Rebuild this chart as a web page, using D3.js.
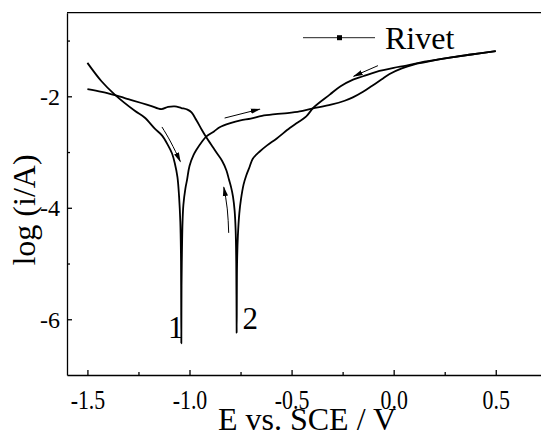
<!DOCTYPE html>
<html>
<head>
<meta charset="utf-8">
<script src="https://cdn.jsdelivr.net/npm/d3@7"></script>
<style>
body { margin: 0; background: #fff; }
svg { display: block; }
text { font-family: "Liberation Serif", "Times New Roman", serif; fill: #000; }
</style>
</head>
<body>
<div id="container"></div>
<script>
// curve 1: forward scan, -1.5 V -> 0.5 V
const forwardE = [-1.500, -1.431, -1.366, -1.268, -1.220, -1.170, -1.135, -1.105, -1.085, -1.072, -1.059, -1.051, -1.045, -1.042, -1.041, -1.040,
    -1.039, -1.037, -1.034, -1.030, -1.020, -1.012, -1.000, -0.980, -0.966, -0.940, -0.917, -0.880, -0.850, -0.800, -0.750, -0.700, -0.645,
    -0.580, -0.520, -0.460, -0.400, -0.307, -0.240, -0.200, -0.150, -0.105, -0.060, -0.020, 0.040, 0.098, 0.150, 0.267, 0.380, 0.500]
const forwardLog = [-1.40, -1.73, -1.97, -2.26, -2.38, -2.58, -2.70, -2.88, -3.03, -3.20, -3.45, -3.80, -4.25, -4.80, -5.40, -6.43,
    -5.40, -4.80, -4.25, -3.95, -3.65, -3.50, -3.25, -3.05, -2.96, -2.82, -2.72, -2.63, -2.55, -2.48, -2.43, -2.40, -2.35,
    -2.32, -2.30, -2.27, -2.22, -2.15, -2.08, -2.02, -1.92, -1.81, -1.70, -1.60, -1.50, -1.43, -1.39, -1.31, -1.25, -1.19]

// curve 2: backward scan, 0.5 V -> -1.5 V
const backwardE = [0.500, 0.380, 0.267, 0.150, 0.062, 0.000, -0.085, -0.150, -0.199, -0.260, -0.313, -0.392, -0.428, -0.470, -0.509, -0.574,
    -0.620, -0.656, -0.690, -0.705, -0.722, -0.735, -0.748, -0.756, -0.763, -0.767, -0.769, -0.771, -0.774, -0.779, -0.787, -0.797,
    -0.807, -0.819, -0.840, -0.868, -0.895, -0.917, -0.940, -0.966, -0.990, -1.010, -1.040, -1.072, -1.105, -1.138, -1.190, -1.236,
    -1.300, -1.366, -1.430, -1.500]
const backwardLog = [-1.19, -1.25, -1.31, -1.38, -1.45, -1.49, -1.56, -1.64, -1.70, -1.82, -1.97, -2.20, -2.36, -2.47, -2.57, -2.76,
    -2.88, -2.99, -3.12, -3.26, -3.42, -3.58, -3.85, -4.10, -4.50, -5.00, -6.24, -5.00, -4.40, -4.05, -3.80, -3.62,
    -3.49, -3.33, -3.16, -3.01, -2.86, -2.74, -2.60, -2.43, -2.29, -2.24, -2.21, -2.18, -2.19, -2.23, -2.17, -2.12,
    -2.05, -1.98, -1.92, -1.87]

// scan direction arrows, points as [E, log i]
const arrows = [
    [[-1.135, -2.55], [-1.092, -2.82], [-1.045, -3.17]],
    [[-0.828, -2.39], [-0.656, -2.23]],
    [[-0.077, -1.45], [-0.196, -1.64]],
    [[-0.808, -4.45], [-0.815, -4.02], [-0.832, -3.63]]
]

const curveLabels = ["1", "2"]
const curveLabelE = [-1.105, -0.741]
const curveLabelLog = [-6.34, -6.18]

const xTicks = [-1.5, -1.0, -0.5, 0.0, 0.5]
const xMinorTicks = [-1.25, -0.75, -0.25, 0.25]
const yTicks = [-2, -4, -6]
const yMinorTicks = [-1, -3, -5]

const legendName = "Rivet"
const xTitle = "E vs. SCE / V"
const yTitle = "log (i/A)"

const width = 541
const height = 430

const x = d3.scaleLinear().domain([-1.6, 0.8]).range([67, 557])
const y = d3.scaleLinear().domain([-7, -0.5]).range([375, 12.7])

const svg = d3.create("svg")
    .attr("width", width)
    .attr("height", height)

const defs = svg.append("defs")
defs.append("marker")
    .attr("id", "head")
    .attr("markerUnits", "userSpaceOnUse")
    .attr("markerWidth", 10)
    .attr("markerHeight", 10)
    .attr("viewBox", "0 -5 10 10")
    .attr("refX", 9)
    .attr("refY", 0)
    .attr("orient", "auto")
    .append("path")
    .attr("d", "M0,-2.6L10,0L0,2.6Z")
    .attr("fill", "#000")

// frame line on top
svg.append("line")
    .attr("x1", x.range()[0]).attr("x2", x.range()[1])
    .attr("y1", y.range()[1]).attr("y2", y.range()[1])
    .attr("stroke", "#000")
    .attr("stroke-width", 1.3)

const xAxis = svg.append("g")
    .attr("transform", `translate(0, ${y.range()[0]})`)
    .call(d3.axisBottom(x).tickValues(xTicks).tickSizeInner(-5).tickSizeOuter(0).tickFormat(d => d.toFixed(1)))
xAxis.selectAll("text")
    .attr("y", 34)
    .attr("dy", 0)
    .attr("font-size", 28)
    .attr("transform", "scale(0.78,1)")

svg.append("g")
    .attr("transform", `translate(0, ${y.range()[0]})`)
    .call(d3.axisBottom(x).tickValues(xMinorTicks).tickSizeInner(-3).tickSizeOuter(0).tickFormat(""))
    .call(g => g.select(".domain").remove())

const yAxis = svg.append("g")
    .attr("transform", `translate(${x.range()[0]}, 0)`)
    .call(d3.axisLeft(y).tickValues(yTicks).tickSizeInner(-5).tickSizeOuter(0).tickPadding(7).tickFormat(d => String(d)))
yAxis.selectAll("text")
    .attr("font-size", 24)
    .attr("dy", "0.34em")

svg.append("g")
    .attr("transform", `translate(${x.range()[0]}, 0)`)
    .call(d3.axisLeft(y).tickValues(yMinorTicks).tickSizeInner(-3).tickSizeOuter(0).tickFormat(""))
    .call(g => g.select(".domain").remove())

svg.selectAll(".domain, .tick line")
    .attr("stroke", "#000")
    .attr("stroke-width", 1.3)

const line = d3.line()
    .x(d => x(d[0]))
    .y(d => y(d[1]))
    .curve(d3.curveCatmullRom.alpha(0.5))

const series = [
    forwardE.map((e, i) => [e, forwardLog[i]]),
    backwardE.map((e, i) => [e, backwardLog[i]])
]

svg.append("g")
    .selectAll("path")
    .data(series)
    .join("path")
    .attr("d", line)
    .attr("fill", "none")
    .attr("stroke", "#000")
    .attr("stroke-width", 1.8)
    .attr("stroke-linejoin", "round")

const arrowLine = d3.line()
    .x(d => x(d[0]))
    .y(d => y(d[1]))
    .curve(d3.curveNatural)

svg.append("g")
    .selectAll("path")
    .data(arrows)
    .join("path")
    .attr("d", arrowLine)
    .attr("fill", "none")
    .attr("stroke", "#000")
    .attr("stroke-width", 1)
    .attr("marker-end", "url(#head)")

svg.append("g")
    .selectAll("text")
    .data(curveLabels)
    .join("text")
    .attr("x", (d, i) => x(curveLabelE[i]))
    .attr("y", (d, i) => y(curveLabelLog[i]))
    .attr("font-size", 31)
    .text(d => d)

// legend
const legend = svg.append("g")
legend.append("line")
    .attr("x1", 303).attr("x2", 375)
    .attr("y1", 37.7).attr("y2", 37.7)
    .attr("stroke", "#222")
    .attr("stroke-width", 1)
legend.append("rect")
    .attr("x", 337).attr("y", 35.2)
    .attr("width", 5).attr("height", 5)
    .attr("fill", "#000")
legend.append("text")
    .attr("x", 385)
    .attr("y", 49)
    .attr("font-size", 32)
    .text(legendName)

svg.append("text")
    .attr("x", 307)
    .attr("y", 430)
    .attr("text-anchor", "middle")
    .attr("font-size", 32)
    .text(xTitle)

svg.append("text")
    .attr("transform", "translate(35, 210) rotate(-90)")
    .attr("text-anchor", "middle")
    .attr("font-size", 32)
    .text(yTitle)

document.querySelector("#container").appendChild(svg.node())
</script>
</body>
</html>
